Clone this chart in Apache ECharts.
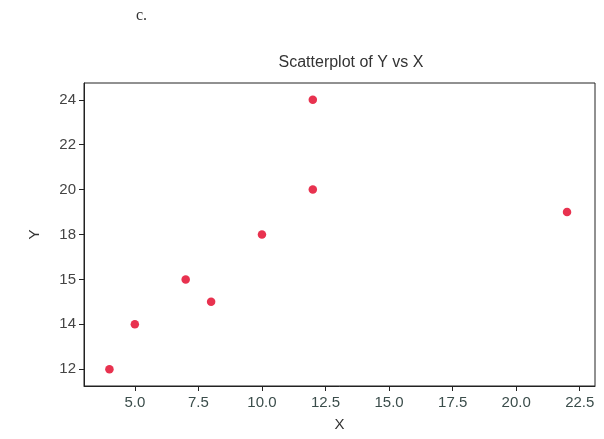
<!DOCTYPE html>
<html>
<head>
<meta charset="utf-8">
<script src="https://cdn.jsdelivr.net/npm/echarts@6/dist/echarts.min.js"></script>
<style>
html,body{margin:0;padding:0;background:#fff;}
#c{width:604px;height:439px;}
</style>
</head>
<body>
<div id="c"></div>
<script>
// Data
const xValues = [4, 5, 7, 8, 10, 12, 12, 22];
const yValues = [12, 14, 16, 15, 18, 20, 24, 19];
const xTicks = [5, 7.5, 10, 12.5, 15, 17.5, 20, 22.5];
const yTicks = [12, 14, 16, 18, 20, 22, 24];
const yTickLabels = ['12', '14', '15', '18', '20', '22', '24'];

const points = xValues.map((x, i) => [x, yValues[i]]);

const chart = echarts.init(document.getElementById('c'), null, {renderer: 'canvas'});
chart.setOption({
  backgroundColor: '#fff',
  animation: false,
  title: [
    {
      text: 'Scatterplot of Y vs X',
      left: 346, top: 50, textAlign: 'center',
      textStyle: {fontFamily: 'Liberation Sans', fontSize: 16, fontWeight: 'normal', color: '#333'}
    },
    {
      text: 'c.',
      left: 131, top: 3,
      textStyle: {fontFamily: 'Liberation Serif', fontSize: 16, fontWeight: 'normal', color: '#333'}
    }
  ],
  grid: {left: 84, top: 83, width: 511, height: 303, show: true, borderColor: '#222', borderWidth: 1, backgroundColor: 'transparent'},
  xAxis: {
    type: 'value', min: 3, max: 23.1,
    name: 'X', nameLocation: 'middle', nameGap: 31,
    nameTextStyle: {fontFamily: 'Liberation Sans', fontSize: 15, color: '#333'},
    axisLine: {show: true, lineStyle: {color: '#222'}},
    axisTick: {show: true, length: 5, inside: false, customValues: xTicks, lineStyle: {color: '#222'}},
    axisLabel: {customValues: xTicks, margin: 9, fontFamily: 'Liberation Sans', fontSize: 15, color: '#3b4d4b',
      formatter: v => v.toFixed(1)},
    splitLine: {show: false}
  },
  yAxis: {
    type: 'value', min: 11.25, max: 24.75,
    name: 'Y', nameLocation: 'middle', nameGap: 42, nameRotate: 90,
    nameTextStyle: {fontFamily: 'Liberation Sans', fontSize: 15, color: '#333'},
    axisLine: {show: true, lineStyle: {color: '#222'}},
    axisTick: {show: true, length: 5, inside: false, customValues: yTicks, lineStyle: {color: '#222'}},
    axisLabel: {customValues: yTicks, margin: 8, fontFamily: 'Liberation Sans', fontSize: 15, color: '#444',
      formatter: v => { const i = yTicks.indexOf(Math.round(v)); return i >= 0 ? yTickLabels[i] : ''; }},
    splitLine: {show: false}
  },
  series: [{
    type: 'scatter',
    data: points,
    symbol: 'circle',
    symbolSize: 8.5,
    itemStyle: {color: '#e8324f', opacity: 1}
  }]
});
</script>
</body>
</html>
